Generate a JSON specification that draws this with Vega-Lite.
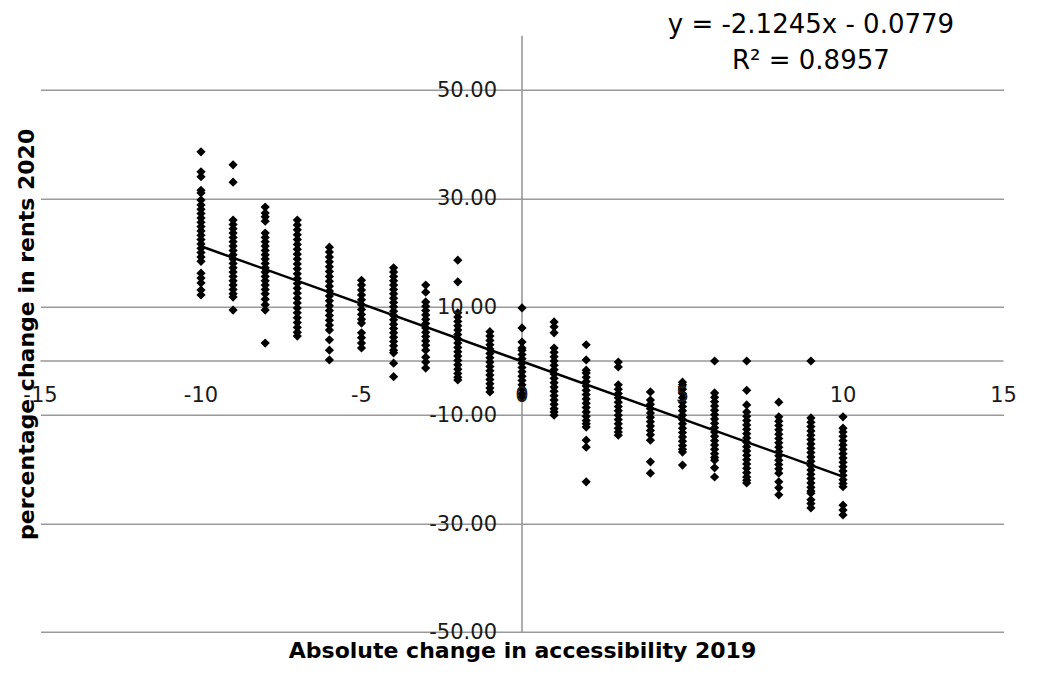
{
  "$schema": "https://vega.github.io/schema/vega-lite/v6.json",
  "width": 963,
  "height": 596.2,
  "autosize": {"type": "none"},
  "padding": {"left": 40.5, "top": 35.8, "right": 46.5, "bottom": 42},
  "background": "white",
  "config": {"view": {"stroke": null}, "font": "DejaVu Sans"},
  "datasets": {
    "pts": [
      {"x":-10,"y":38.6},{"x":-10,"y":34.9},{"x":-10,"y":34.0},{"x":-10,"y":31.5},{"x":-10,"y":31.0},{"x":-10,"y":29.7},{"x":-10,"y":28.8},{"x":-10,"y":28.0},{"x":-10,"y":27.2},{"x":-10,"y":26.4},{"x":-10,"y":25.6},{"x":-10,"y":24.8},{"x":-10,"y":24.0},{"x":-10,"y":23.2},{"x":-10,"y":22.4},{"x":-10,"y":21.6},{"x":-10,"y":20.8},{"x":-10,"y":20.0},{"x":-10,"y":19.2},{"x":-10,"y":18.4},{"x":-10,"y":16.2},{"x":-10,"y":15.3},{"x":-10,"y":14.4},{"x":-10,"y":13.1},{"x":-10,"y":12.2},
      {"x":-9,"y":36.2},{"x":-9,"y":33.0},{"x":-9,"y":26.0},{"x":-9,"y":25.2},{"x":-9,"y":24.4},{"x":-9,"y":23.6},{"x":-9,"y":22.8},{"x":-9,"y":22.0},{"x":-9,"y":21.2},{"x":-9,"y":20.4},{"x":-9,"y":19.6},{"x":-9,"y":18.8},{"x":-9,"y":18.0},{"x":-9,"y":17.2},{"x":-9,"y":16.4},{"x":-9,"y":15.6},{"x":-9,"y":14.8},{"x":-9,"y":14.0},{"x":-9,"y":13.2},{"x":-9,"y":12.4},{"x":-9,"y":11.8},{"x":-9,"y":9.4},
      {"x":-8,"y":28.4},{"x":-8,"y":27.3},{"x":-8,"y":26.6},{"x":-8,"y":25.8},{"x":-8,"y":23.6},{"x":-8,"y":22.8},{"x":-8,"y":22.0},{"x":-8,"y":21.2},{"x":-8,"y":20.4},{"x":-8,"y":19.6},{"x":-8,"y":18.8},{"x":-8,"y":18.0},{"x":-8,"y":17.2},{"x":-8,"y":16.4},{"x":-8,"y":15.6},{"x":-8,"y":14.8},{"x":-8,"y":14.0},{"x":-8,"y":13.2},{"x":-8,"y":12.4},{"x":-8,"y":11.4},{"x":-8,"y":10.4},{"x":-8,"y":9.4},{"x":-8,"y":3.3},
      {"x":-7,"y":26.0},{"x":-7,"y":25.1},{"x":-7,"y":24.2},{"x":-7,"y":23.3},{"x":-7,"y":22.4},{"x":-7,"y":21.5},{"x":-7,"y":20.6},{"x":-7,"y":19.7},{"x":-7,"y":18.8},{"x":-7,"y":17.9},{"x":-7,"y":17.0},{"x":-7,"y":16.1},{"x":-7,"y":15.2},{"x":-7,"y":14.3},{"x":-7,"y":13.4},{"x":-7,"y":12.5},{"x":-7,"y":11.6},{"x":-7,"y":10.7},{"x":-7,"y":9.8},{"x":-7,"y":8.9},{"x":-7,"y":8.0},{"x":-7,"y":7.1},{"x":-7,"y":6.2},{"x":-7,"y":5.3},{"x":-7,"y":4.6},
      {"x":-6,"y":21.0},{"x":-6,"y":20.1},{"x":-6,"y":19.2},{"x":-6,"y":18.3},{"x":-6,"y":17.4},{"x":-6,"y":16.5},{"x":-6,"y":15.6},{"x":-6,"y":14.7},{"x":-6,"y":13.8},{"x":-6,"y":12.9},{"x":-6,"y":12.0},{"x":-6,"y":11.1},{"x":-6,"y":10.2},{"x":-6,"y":9.3},{"x":-6,"y":8.4},{"x":-6,"y":7.5},{"x":-6,"y":6.6},{"x":-6,"y":5.7},{"x":-6,"y":3.9},{"x":-6,"y":2.0},{"x":-6,"y":0.2},
      {"x":-5,"y":14.9},{"x":-5,"y":14.0},{"x":-5,"y":13.1},{"x":-5,"y":12.2},{"x":-5,"y":11.3},{"x":-5,"y":10.4},{"x":-5,"y":9.5},{"x":-5,"y":8.6},{"x":-5,"y":7.7},{"x":-5,"y":7.0},{"x":-5,"y":5.2},{"x":-5,"y":4.3},{"x":-5,"y":3.3},{"x":-5,"y":2.4},
      {"x":-4,"y":17.2},{"x":-4,"y":16.4},{"x":-4,"y":15.6},{"x":-4,"y":14.8},{"x":-4,"y":14.0},{"x":-4,"y":13.2},{"x":-4,"y":12.4},{"x":-4,"y":11.6},{"x":-4,"y":10.8},{"x":-4,"y":10.0},{"x":-4,"y":9.2},{"x":-4,"y":8.4},{"x":-4,"y":7.6},{"x":-4,"y":6.8},{"x":-4,"y":6.0},{"x":-4,"y":5.2},{"x":-4,"y":4.4},{"x":-4,"y":3.6},{"x":-4,"y":2.8},{"x":-4,"y":2.0},{"x":-4,"y":1.5},{"x":-4,"y":-0.4},{"x":-4,"y":-2.9},
      {"x":-3,"y":14.0},{"x":-3,"y":12.7},{"x":-3,"y":10.9},{"x":-3,"y":10.1},{"x":-3,"y":9.3},{"x":-3,"y":8.5},{"x":-3,"y":7.7},{"x":-3,"y":6.9},{"x":-3,"y":6.1},{"x":-3,"y":5.3},{"x":-3,"y":4.5},{"x":-3,"y":3.7},{"x":-3,"y":2.9},{"x":-3,"y":2.0},{"x":-3,"y":0.7},{"x":-3,"y":-0.2},{"x":-3,"y":-1.3},
      {"x":-2,"y":18.6},{"x":-2,"y":14.6},{"x":-2,"y":8.9},{"x":-2,"y":8.1},{"x":-2,"y":7.3},{"x":-2,"y":6.5},{"x":-2,"y":5.7},{"x":-2,"y":4.9},{"x":-2,"y":4.1},{"x":-2,"y":3.3},{"x":-2,"y":2.5},{"x":-2,"y":1.7},{"x":-2,"y":0.9},{"x":-2,"y":0.1},{"x":-2,"y":-0.7},{"x":-2,"y":-1.5},{"x":-2,"y":-2.3},{"x":-2,"y":-3.0},{"x":-2,"y":-3.5},
      {"x":-1,"y":5.4},{"x":-1,"y":4.6},{"x":-1,"y":3.8},{"x":-1,"y":3.0},{"x":-1,"y":2.2},{"x":-1,"y":1.4},{"x":-1,"y":0.6},{"x":-1,"y":-0.2},{"x":-1,"y":-1.0},{"x":-1,"y":-1.8},{"x":-1,"y":-2.6},{"x":-1,"y":-3.4},{"x":-1,"y":-4.2},{"x":-1,"y":-5.0},{"x":-1,"y":-5.7},
      {"x":0,"y":9.8},{"x":0,"y":6.1},{"x":0,"y":3.5},{"x":0,"y":2.4},{"x":0,"y":2.0},{"x":0,"y":1.2},{"x":0,"y":0.4},{"x":0,"y":-0.4},{"x":0,"y":-1.2},{"x":0,"y":-2.0},{"x":0,"y":-2.8},{"x":0,"y":-3.6},{"x":0,"y":-4.4},{"x":0,"y":-5.2},{"x":0,"y":-6.0},{"x":0,"y":-6.6},
      {"x":1,"y":7.2},{"x":1,"y":6.3},{"x":1,"y":5.2},{"x":1,"y":2.4},{"x":1,"y":1.6},{"x":1,"y":0.8},{"x":1,"y":0.0},{"x":1,"y":-0.8},{"x":1,"y":-1.6},{"x":1,"y":-2.4},{"x":1,"y":-3.2},{"x":1,"y":-4.0},{"x":1,"y":-4.8},{"x":1,"y":-5.6},{"x":1,"y":-6.4},{"x":1,"y":-7.2},{"x":1,"y":-8.0},{"x":1,"y":-8.8},{"x":1,"y":-9.4},{"x":1,"y":-10.0},
      {"x":2,"y":3.0},{"x":2,"y":0.2},{"x":2,"y":-1.7},{"x":2,"y":-2.2},{"x":2,"y":-3.0},{"x":2,"y":-3.8},{"x":2,"y":-4.6},{"x":2,"y":-5.4},{"x":2,"y":-6.2},{"x":2,"y":-7.0},{"x":2,"y":-7.8},{"x":2,"y":-8.6},{"x":2,"y":-9.4},{"x":2,"y":-10.2},{"x":2,"y":-11.0},{"x":2,"y":-11.6},{"x":2,"y":-12.2},{"x":2,"y":-14.6},{"x":2,"y":-15.9},{"x":2,"y":-22.3},
      {"x":3,"y":-0.2},{"x":3,"y":-1.1},{"x":3,"y":-4.4},{"x":3,"y":-5.2},{"x":3,"y":-6.0},{"x":3,"y":-6.8},{"x":3,"y":-7.6},{"x":3,"y":-8.4},{"x":3,"y":-9.2},{"x":3,"y":-10.0},{"x":3,"y":-10.8},{"x":3,"y":-11.6},{"x":3,"y":-12.4},{"x":3,"y":-13.1},{"x":3,"y":-13.7},
      {"x":4,"y":-5.7},{"x":4,"y":-7.2},{"x":4,"y":-8.0},{"x":4,"y":-8.8},{"x":4,"y":-9.6},{"x":4,"y":-10.4},{"x":4,"y":-11.2},{"x":4,"y":-12.0},{"x":4,"y":-12.8},{"x":4,"y":-13.6},{"x":4,"y":-14.6},{"x":4,"y":-18.6},{"x":4,"y":-20.7},
      {"x":5,"y":-3.9},{"x":5,"y":-4.4},{"x":5,"y":-5.2},{"x":5,"y":-6.0},{"x":5,"y":-6.8},{"x":5,"y":-7.6},{"x":5,"y":-8.4},{"x":5,"y":-9.2},{"x":5,"y":-10.0},{"x":5,"y":-10.8},{"x":5,"y":-11.6},{"x":5,"y":-12.4},{"x":5,"y":-13.2},{"x":5,"y":-14.0},{"x":5,"y":-14.8},{"x":5,"y":-15.6},{"x":5,"y":-16.3},{"x":5,"y":-16.8},{"x":5,"y":-19.2},
      {"x":6,"y":0.0},{"x":6,"y":-5.9},{"x":6,"y":-6.7},{"x":6,"y":-7.5},{"x":6,"y":-8.3},{"x":6,"y":-9.1},{"x":6,"y":-9.9},{"x":6,"y":-10.7},{"x":6,"y":-11.5},{"x":6,"y":-12.3},{"x":6,"y":-13.1},{"x":6,"y":-13.9},{"x":6,"y":-14.7},{"x":6,"y":-15.5},{"x":6,"y":-16.3},{"x":6,"y":-17.1},{"x":6,"y":-17.8},{"x":6,"y":-18.3},{"x":6,"y":-19.7},{"x":6,"y":-21.4},
      {"x":7,"y":0.0},{"x":7,"y":-5.4},{"x":7,"y":-8.1},{"x":7,"y":-9.4},{"x":7,"y":-10.2},{"x":7,"y":-11.0},{"x":7,"y":-11.8},{"x":7,"y":-12.6},{"x":7,"y":-13.4},{"x":7,"y":-14.2},{"x":7,"y":-15.0},{"x":7,"y":-15.8},{"x":7,"y":-16.6},{"x":7,"y":-17.4},{"x":7,"y":-18.2},{"x":7,"y":-19.0},{"x":7,"y":-19.8},{"x":7,"y":-20.6},{"x":7,"y":-21.4},{"x":7,"y":-22.0},{"x":7,"y":-22.5},
      {"x":8,"y":-7.6},{"x":8,"y":-10.3},{"x":8,"y":-11.1},{"x":8,"y":-11.9},{"x":8,"y":-12.7},{"x":8,"y":-13.5},{"x":8,"y":-14.3},{"x":8,"y":-15.1},{"x":8,"y":-15.9},{"x":8,"y":-16.7},{"x":8,"y":-17.5},{"x":8,"y":-18.3},{"x":8,"y":-19.1},{"x":8,"y":-19.9},{"x":8,"y":-20.7},{"x":8,"y":-22.3},{"x":8,"y":-23.4},{"x":8,"y":-24.7},
      {"x":9,"y":0.0},{"x":9,"y":-10.5},{"x":9,"y":-11.3},{"x":9,"y":-12.1},{"x":9,"y":-12.9},{"x":9,"y":-13.7},{"x":9,"y":-14.5},{"x":9,"y":-15.3},{"x":9,"y":-16.1},{"x":9,"y":-16.9},{"x":9,"y":-17.7},{"x":9,"y":-18.5},{"x":9,"y":-19.3},{"x":9,"y":-20.1},{"x":9,"y":-20.9},{"x":9,"y":-21.7},{"x":9,"y":-22.5},{"x":9,"y":-23.3},{"x":9,"y":-24.0},{"x":9,"y":-24.4},{"x":9,"y":-25.6},{"x":9,"y":-26.3},{"x":9,"y":-27.1},
      {"x":10,"y":-10.3},{"x":10,"y":-12.4},{"x":10,"y":-13.1},{"x":10,"y":-13.9},{"x":10,"y":-14.7},{"x":10,"y":-15.5},{"x":10,"y":-16.3},{"x":10,"y":-17.1},{"x":10,"y":-17.9},{"x":10,"y":-18.7},{"x":10,"y":-19.5},{"x":10,"y":-20.3},{"x":10,"y":-21.1},{"x":10,"y":-21.9},{"x":10,"y":-22.6},{"x":10,"y":-23.2},{"x":10,"y":-26.6},{"x":10,"y":-27.5},{"x":10,"y":-28.4}
    ],
    "fit": [{"x": -10, "y": 21.167}, {"x": 10, "y": -21.323}],
    "origin": [{"v": 0}],
    "xticks": [
      {"v": -15, "label": "-15"}, {"v": -10, "label": "-10"}, {"v": -5, "label": "-5"}, {"v": 0, "label": "0"},
      {"v": 5, "label": "5"}, {"v": 10, "label": "10"}, {"v": 15, "label": "15"}
    ],
    "yticks": [
      {"v": -50, "label": "-50.00"}, {"v": -30, "label": "-30.00"}, {"v": -10, "label": "-10.00"},
      {"v": 10, "label": "10.00"}, {"v": 30, "label": "30.00"}, {"v": 50, "label": "50.00"}
    ],
    "eq": [
      {"x": 9, "y": 62, "t": "y = -2.1245x - 0.0779"},
      {"x": 9, "y": 55.4, "t": "R² = 0.8957"}
    ]
  },
  "layer": [
    {
      "data": {"name": "pts"},
      "mark": {"type": "point", "shape": "diamond", "filled": true, "size": 0, "opacity": 0},
      "encoding": {
        "x": {
          "field": "x", "type": "quantitative",
          "scale": {"domain": [-15, 15], "nice": false, "zero": false},
          "axis": {
            "title": "Absolute change in accessibility 2019",
            "labels": false, "ticks": false, "domain": false, "grid": false,
            "titleFont": "DejaVu Sans", "titleFontSize": 22, "titleFontWeight": "bold",
            "titleColor": "#000000", "titlePadding": 8
          }
        },
        "y": {
          "field": "y", "type": "quantitative",
          "scale": {"domain": [-50, 60], "nice": false, "zero": false},
          "axis": {
            "title": "percentage change in rents 2020",
            "values": [-50, -30, -10, 10, 30, 50],
            "labels": false, "ticks": false, "domain": false, "grid": true,
            "gridColor": "#999999", "gridWidth": 1.6,
            "titleFont": "DejaVu Sans", "titleFontSize": 22, "titleFontWeight": "bold",
            "titleColor": "#000000", "titlePadding": 2
          }
        }
      }
    },
    {
      "data": {"name": "origin"},
      "mark": {"type": "rule", "color": "#999999", "strokeWidth": 1.6},
      "encoding": {"y": {"field": "v", "type": "quantitative"}}
    },
    {
      "data": {"name": "origin"},
      "mark": {"type": "rule", "color": "#999999", "strokeWidth": 1.6},
      "encoding": {"x": {"field": "v", "type": "quantitative"}}
    },
    {
      "data": {"name": "pts"},
      "mark": {"type": "point", "shape": "diamond", "filled": true, "size": 85, "color": "#000000", "opacity": 1},
      "encoding": {
        "x": {"field": "x", "type": "quantitative"},
        "y": {"field": "y", "type": "quantitative"}
      }
    },
    {
      "data": {"name": "fit"},
      "mark": {"type": "line", "color": "#000000", "strokeWidth": 2.5},
      "encoding": {
        "x": {"field": "x", "type": "quantitative"},
        "y": {"field": "y", "type": "quantitative"}
      }
    },
    {
      "data": {"name": "xticks"},
      "mark": {"type": "text", "align": "center", "baseline": "middle", "dy": 35, "fontSize": 21, "font": "DejaVu Sans", "color": "#1a1a1a"},
      "encoding": {
        "x": {"field": "v", "type": "quantitative"},
        "y": {"datum": 0, "type": "quantitative"},
        "text": {"field": "label"}
      }
    },
    {
      "data": {"name": "yticks"},
      "mark": {"type": "text", "align": "right", "baseline": "middle", "dx": -25, "dy": 1, "fontSize": 21, "font": "DejaVu Sans", "color": "#1a1a1a"},
      "encoding": {
        "x": {"datum": 0, "type": "quantitative"},
        "y": {"field": "v", "type": "quantitative"},
        "text": {"field": "label"}
      }
    },
    {
      "data": {"name": "eq"},
      "mark": {"type": "text", "align": "center", "baseline": "middle", "fontSize": 26, "font": "DejaVu Sans", "color": "#000000"},
      "encoding": {
        "x": {"field": "x", "type": "quantitative"},
        "y": {"field": "y", "type": "quantitative"},
        "text": {"field": "t"}
      }
    }
  ]
}
